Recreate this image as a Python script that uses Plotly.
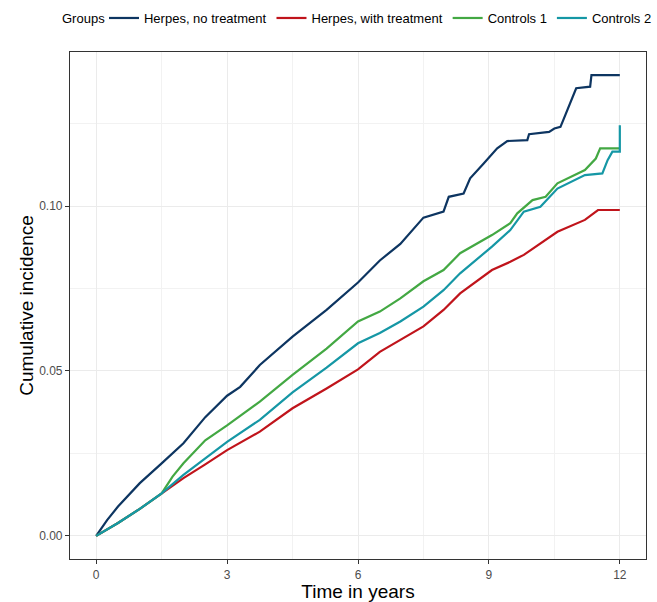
import plotly.graph_objects as go

# ---- data ----
groups = ["Herpes, no treatment", "Herpes, with treatment", "Controls 1", "Controls 2"]
colors = ["#0D3561", "#C0141B", "#43A843", "#1597A5"]

t_herpes_no = [0, 0.25, 0.5, 1.0, 1.5, 2.0, 2.5, 3.0, 3.3, 3.75, 4.5, 5.28, 6.0, 6.5,
               6.97, 7.5, 7.96, 8.08, 8.42, 8.57, 8.88, 9.19, 9.42, 9.88, 9.92,
               10.38, 10.5, 10.64, 10.72, 10.83, 10.9, 11.0, 11.32, 11.35, 12.0]
v_herpes_no = [0, 0.0048, 0.0089, 0.016, 0.022, 0.0281, 0.036, 0.0425, 0.0452, 0.0518,
               0.0604, 0.0685, 0.0768, 0.0835, 0.0885, 0.0965, 0.0983, 0.1028,
               0.1038, 0.1084, 0.1129, 0.1175, 0.1197, 0.12, 0.1218, 0.1225, 0.1235,
               0.124, 0.1266, 0.1301, 0.1326, 0.1357, 0.1362, 0.1397, 0.1397]

t_herpes_tr = [0, 0.5, 1.0, 1.5, 2.0, 2.5, 3.0, 3.75, 4.5, 5.28, 6.0, 6.5, 6.97, 7.5, 7.96,
               8.34, 9.07, 9.49, 9.8, 10.24, 10.57, 11.2, 11.5, 12.0]
v_herpes_tr = [0, 0.0039, 0.0082, 0.0129, 0.0175, 0.0217, 0.026, 0.0316, 0.0387, 0.0447,
               0.0505, 0.0558, 0.0595, 0.0635, 0.0685, 0.0735, 0.0806, 0.0831, 0.0852,
               0.0892, 0.0922, 0.0958, 0.0988, 0.0988]

t_controls1 = [0, 0.5, 1.0, 1.5, 1.75, 2.0, 2.5, 3.0, 3.75, 4.5, 5.28, 6.0, 6.5, 6.97, 7.5,
               7.96, 8.34, 9.07, 9.49, 9.65, 10.0, 10.3, 10.57, 11.2, 11.45, 11.55, 12.0]
v_controls1 = [0, 0.0039, 0.0082, 0.0129, 0.018, 0.022, 0.029, 0.0335, 0.0407, 0.0488,
               0.0568, 0.065, 0.068, 0.072, 0.0772, 0.0806, 0.0857, 0.0912, 0.0948,
               0.0978, 0.1018, 0.1028, 0.1069, 0.1109, 0.1144, 0.1175, 0.1175]

t_controls2 = [0, 0.5, 1.0, 1.5, 2.0, 2.5, 3.0, 3.75, 4.5, 5.28, 6.0, 6.5, 6.97, 7.5, 7.96,
               8.34, 9.07, 9.49, 9.8, 10.18, 10.57, 11.2, 11.6, 11.72, 11.83, 12.0, 12.0]
v_controls2 = [0, 0.0039, 0.0082, 0.0129, 0.0185, 0.0235, 0.0285, 0.0352, 0.0435, 0.051,
               0.0584, 0.0615, 0.065, 0.0695, 0.0745, 0.0796, 0.0877, 0.0927, 0.0983,
               0.0998, 0.1053, 0.1094, 0.1099, 0.1139, 0.1165, 0.1165, 0.1245]

x_ticks = [0, 3, 6, 9, 12]
y_ticks = [0.00, 0.05, 0.10]
y_tick_labels = ["0.00", "0.05", "0.10"]
legend_title = "Groups"

series = [(t_herpes_no, v_herpes_no), (t_herpes_tr, v_herpes_tr),
          (t_controls1, v_controls1), (t_controls2, v_controls2)]

fig = go.Figure()
for name, col, (t, v) in zip(groups, colors, series):
    fig.add_trace(go.Scatter(x=t, y=v, mode="lines", name=name,
                             line=dict(color=col, width=2.2)))

font_family = "Liberation Sans, Arial, sans-serif"
axis_common = dict(
    showline=True, mirror=True, linecolor="#333333", linewidth=1.2,
    ticks="outside", ticklen=4, tickcolor="#333333", tickwidth=1,
    showgrid=True, gridcolor="#EBEBEB", gridwidth=1,
    zeroline=False,
    tickfont=dict(family=font_family, size=12, color="#4D4D4D"),
)

fig.update_xaxes(range=[-0.6, 12.6], tickvals=x_ticks,
                 minor=dict(dtick=1.5, tick0=0, showgrid=True, gridcolor="#F2F2F2", gridwidth=0.6),
                 title=dict(text="Time in years", font=dict(family=font_family, size=19, color="#000000"),
                            standoff=6),
                 **axis_common)
fig.update_yaxes(range=[-0.007, 0.1467], tickvals=y_ticks, ticktext=y_tick_labels,
                 minor=dict(dtick=0.025, tick0=0, showgrid=True, gridcolor="#F2F2F2", gridwidth=0.6),
                 title=dict(text="Cumulative incidence", font=dict(family=font_family, size=19, color="#000000"),
                            standoff=0),
                 **axis_common)

fig.add_annotation(text=legend_title, xref="paper", yref="paper",
                   x=-0.0174, xanchor="left", y=1.067, yanchor="middle",
                   showarrow=False, font=dict(family=font_family, size=13, color="#000000"))

fig.update_layout(
    width=657, height=602,
    margin=dict(l=70, r=11, t=52, b=43, autoexpand=False),
    paper_bgcolor="white", plot_bgcolor="white",
    font=dict(family=font_family, size=13, color="#000000"),
    legend=dict(orientation="h", x=0.059, xanchor="left", y=1.067, yanchor="middle",
                font=dict(size=13), itemwidth=30, tracegroupgap=0,
                bgcolor="rgba(0,0,0,0)"),
)

fig.write_html("out.html", config={"displayModeBar": False},
               post_script="document.body.style.margin='0px';document.body.style.overflow='hidden';")
